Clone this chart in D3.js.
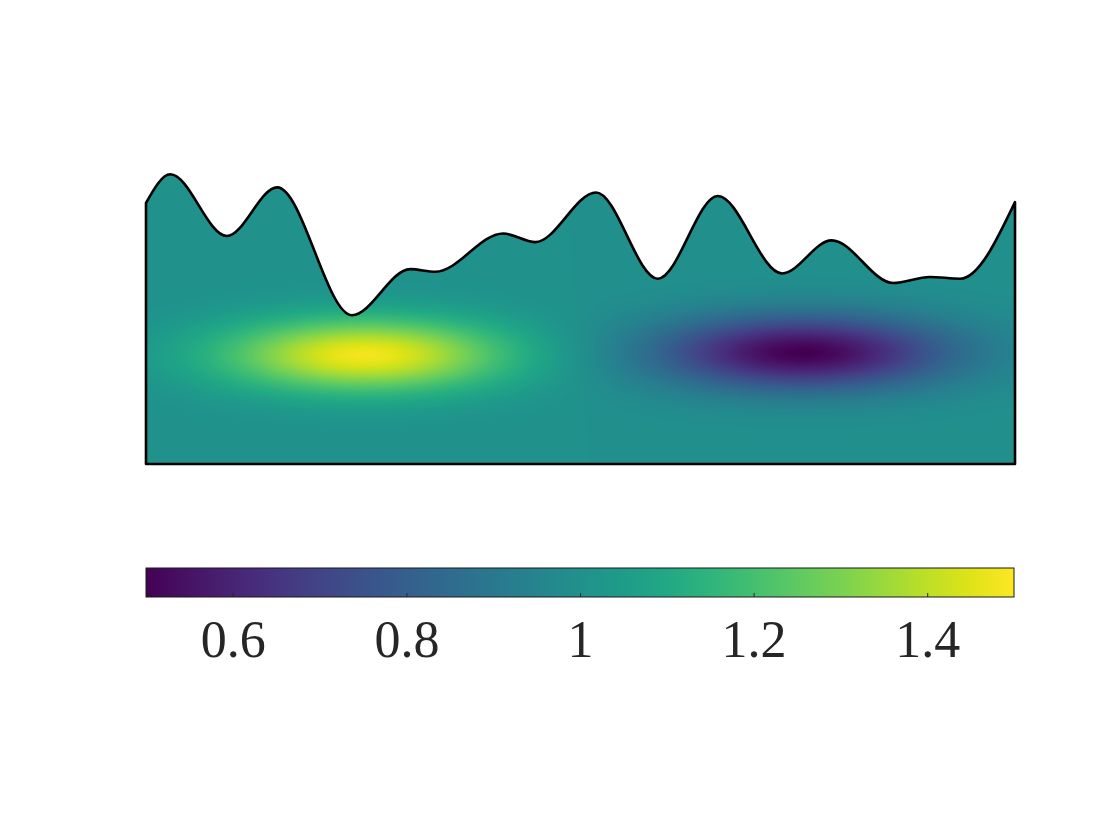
<!DOCTYPE html>
<html>
<head>
<meta charset="utf-8">
<script src="https://cdn.jsdelivr.net/npm/d3@7"></script>
<style>
  html, body { margin: 0; padding: 0; background: #fff; }
  svg { display: block; }
</style>
</head>
<body>
<svg id="chart" width="1120" height="840"></svg>
<script>
// ---- data ----
// free-surface profile: x positions and top heights (ends + crests/troughs)
const surfaceX = [0, 0.28, 0.93, 1.51, 2.37, 3.04, 3.33, 4.11, 4.48, 5.18, 5.89, 6.58, 7.32, 7.89, 8.60, 9.02, 9.37, 10.0];
const surfaceY = [3.00, 3.33, 2.62, 3.18, 1.71, 2.24, 2.21, 2.65, 2.55, 3.12, 2.13, 3.08, 2.19, 2.57, 2.08, 2.15, 2.13, 3.01];
// field anomalies (blobs) on a background value of 1
const background = 1.0;
const blobCx = [2.52, 7.56];
const blobCy = [1.25, 1.28];
const blobAmp = [0.48, -0.50];
const blobSx = [1.15, 1.18];
const blobSy = [0.30, 0.30];
// colour bar
const colorDomain = [0.5, 1.5];
const colorTicks = [0.6, 0.8, 1.0, 1.2, 1.4];
const colorTickLabels = ["0.6", "0.8", "1", "1.2", "1.4"];

// ---- layout ----
const svg = d3.select("#chart");
const x = d3.scaleLinear().domain([0, 10]).range([146, 1015]);
const y = d3.scaleLinear().domain([0, 3]).range([464, 203]);
const color = d3.scaleSequential(d3.interpolateViridis).domain(colorDomain);

const pts = surfaceX.map((v, i) => [v, surfaceY[i]]);

// field image
const x0 = Math.floor(x(0)), x1 = Math.ceil(x(10));
const yTop = Math.floor(y(d3.max(surfaceY))) - 6, yBot = Math.ceil(y(0));
const W = x1 - x0, H = yBot - yTop;
const canvas = document.createElement("canvas");
canvas.width = W; canvas.height = H;
const ctx = canvas.getContext("2d");
const img = ctx.createImageData(W, H);
for (let j = 0; j < H; j++) {
  const yy = y.invert(yTop + j + 0.5);
  for (let i = 0; i < W; i++) {
    const xx = x.invert(x0 + i + 0.5);
    let v = background;
    for (let k = 0; k < blobCx.length; k++) {
      const dx = (xx - blobCx[k]) / blobSx[k];
      const dy = (yy - blobCy[k]) / blobSy[k];
      v += blobAmp[k] * Math.exp(-0.5 * (dx * dx + dy * dy));
    }
    const c = d3.rgb(color(Math.max(colorDomain[0], Math.min(colorDomain[1], v))));
    const p = (j * W + i) * 4;
    img.data[p] = c.r; img.data[p + 1] = c.g; img.data[p + 2] = c.b; img.data[p + 3] = 255;
  }
}
ctx.putImageData(img, 0, 0);

const area = d3.area()
  .x(d => x(d[0]))
  .y0(y(0))
  .y1(d => y(d[1]))
  .curve(d3.curveMonotoneX);

const defs = svg.append("defs");
defs.append("clipPath").attr("id", "domainClip")
  .append("path").attr("d", area(pts));

svg.append("image")
  .attr("x", x0).attr("y", yTop)
  .attr("width", W).attr("height", H)
  .attr("preserveAspectRatio", "none")
  .attr("href", canvas.toDataURL())
  .attr("clip-path", "url(#domainClip)");

svg.append("path")
  .attr("d", area(pts))
  .attr("fill", "none")
  .attr("stroke", "#000")
  .attr("stroke-width", 2.6)
  .attr("stroke-linejoin", "round");

// ---- colour bar ----
const cbX = d3.scaleLinear().domain(colorDomain).range([146, 1014]);
const cbTop = 568, cbH = 29;
const grad = defs.append("linearGradient").attr("id", "cbGrad")
  .attr("x1", "0%").attr("x2", "100%").attr("y1", "0%").attr("y2", "0%");
d3.range(0, 1.0001, 0.05).forEach(t => {
  grad.append("stop").attr("offset", (t * 100) + "%")
    .attr("stop-color", color(colorDomain[0] + t * (colorDomain[1] - colorDomain[0])));
});
svg.append("rect")
  .attr("x", cbX(colorDomain[0])).attr("y", cbTop)
  .attr("width", cbX(colorDomain[1]) - cbX(colorDomain[0])).attr("height", cbH)
  .attr("fill", "url(#cbGrad)")
  .attr("stroke", "#1a1a1a").attr("stroke-width", 1);

const cbAxis = d3.axisBottom(cbX)
  .tickValues(colorTicks)
  .tickFormat((d, i) => colorTickLabels[i])
  .tickSize(0)
  .tickPadding(0);
const ag = svg.append("g").attr("transform", `translate(0,${cbTop + cbH})`).call(cbAxis);
ag.select(".domain").remove();
ag.selectAll(".tick line").attr("y1", 0).attr("y2", -4)
  .attr("stroke", "#262626").attr("stroke-width", 1);
ag.selectAll(".tick text")
  .attr("dy", null)
  .attr("y", 60)
  .attr("fill", "#262626")
  .style("font-family", "'Liberation Serif', 'DejaVu Serif', serif")
  .style("font-size", "52px");
</script>
</body>
</html>
